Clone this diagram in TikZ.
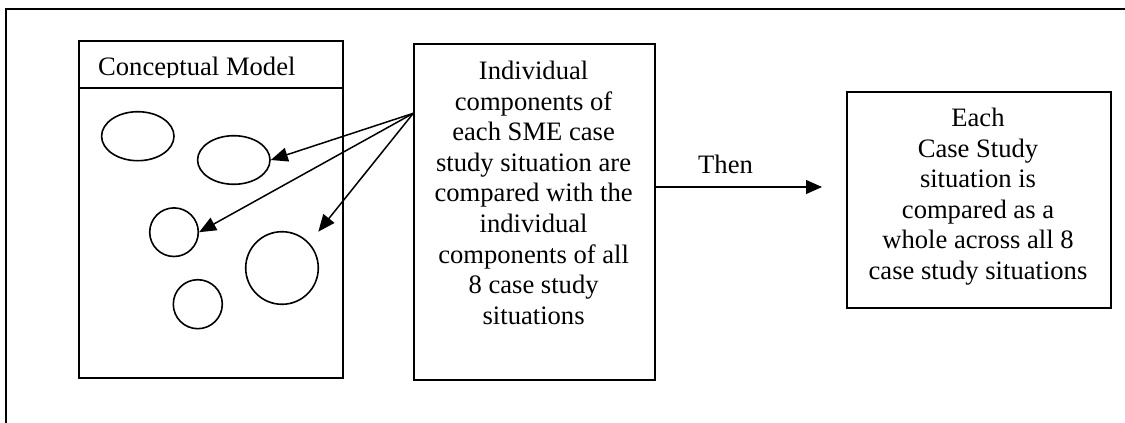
\documentclass[tikz,border=0pt]{standalone}
\usepackage{fontspec}
\setmainfont{Liberation Serif}
\usetikzlibrary{arrows.meta,shapes.geometric}
\begin{document}
\begin{tikzpicture}[x=1pt,y=-1pt,
  panel/.style={draw,line width=1.8pt,inner sep=0pt,anchor=north west},
  blob/.style={draw,line width=1.6pt,inner sep=0pt,ellipse},
  ring/.style={draw,line width=1.6pt,inner sep=0pt,circle},
  conn/.style={line width=1.5pt,-{Triangle[length=17pt,width=14pt]}},
  thenconn/.style={line width=1.1pt,-{Triangle[length=16pt,width=14pt]}},
  txt/.style={align=center,inner sep=0pt,font=\fontsize{26.6pt}{30.6pt}\selectfont},
  lbl/.style={inner sep=0pt,font=\fontsize{26.6pt}{30.6pt}\selectfont}]
\useasboundingbox (0,0) rectangle (1125,423);

% outer frame (left and top edges)
\draw[line width=2pt] (5.8,423) -- (5.8,8.7) -- (1125,8.7);

% conceptual model panel with its header
\node[panel,minimum width=264.6pt,minimum height=336.7pt] (model) at (77.7,40) {};
\draw[line width=1.8pt] ([yshift=-48.3pt]model.north west) -- ([yshift=-48.3pt]model.north east);
\begin{scope}
  \clip (77.7,40) rectangle (342.3,77.3);
  \node[lbl,anchor=base west] (title) at (98,75.5) {Conceptual Model};
\end{scope}

% components inside the model
\node[blob,minimum width=72.4pt,minimum height=49pt] (e1) at (137.8,136.2) {};
\node[blob,minimum width=72.4pt,minimum height=48.6pt] (e2) at (233.8,160) {};
\node[ring,minimum size=48.6pt] (c3) at (174,232.2) {};
\node[ring,minimum size=72.6pt] (c4) at (282,268) {};
\node[ring,minimum size=49pt] (c5) at (197.8,304.2) {};

% comparison box
\node[panel,minimum width=240.7pt,minimum height=336.3pt] (mid) at (413.3,42.7) {};
\node[txt,anchor=north] (midtext) at (533.6,60.8) {Individual\\components of\\each SME case\\study situation are\\compared with the\\individual\\components of all\\8 case study\\situations};

% whole-case box
\node[panel,minimum width=264pt,minimum height=215.7pt] (whole) at (846,91) {};
\node[txt,anchor=north] (wholetext) at (978,107.8) {Each\\Case Study\\situation is\\compared as a\\whole across all 8\\case study situations};

% arrows from the comparison box into the model
\coordinate (src) at ([yshift=-70.6pt]mid.north west);
\coordinate (tip3) at (318.3,231.7);
\draw[conn] (src) -- (e2.east);
\draw[conn] (src) -- (c3.east);
\draw[conn] (src) -- (tip3);

% "Then" step
\coordinate (thenend) at (822,187);
\draw[thenconn] (mid.east |- thenend) -- (thenend);
\node[lbl,anchor=base west] (then) at (698,173) {Then};
\end{tikzpicture}
\end{document}
